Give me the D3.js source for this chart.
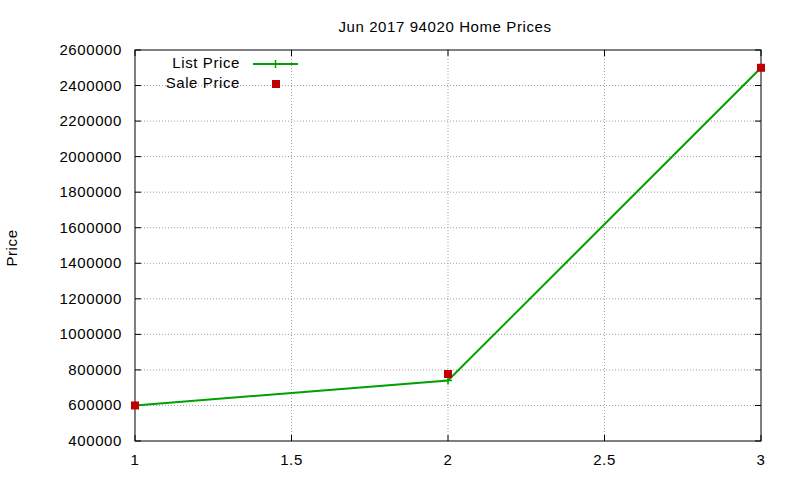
<!DOCTYPE html>
<html><head><meta charset="utf-8">
<script src="https://cdn.jsdelivr.net/npm/d3@7"></script>
<style>body{margin:0;background:#fff}text{font-family:"Liberation Sans",Arial,sans-serif;font-size:15px;letter-spacing:0.6px}</style>
</head><body><svg id="c" width="800" height="480"></svg>
<script>
const xValues=[1,2,3];
const listPrice=[600000,740000,2500000];
const salePrice=[600000,777000,2500000];
const xTicks=[1,1.5,2,2.5,3];
const yTicks=[400000,600000,800000,1000000,1200000,1400000,1600000,1800000,2000000,2200000,2400000,2600000];
const svg=d3.select("#c");
const L=135,R=761,T=50,B=441;
const x=d3.scaleLinear().domain([1,3]).range([L,R]);
const y=d3.scaleLinear().domain([400000,2600000]).range([B,T]);
const g=svg.append("g");
g.selectAll(".gy").data(yTicks.slice(1,-1)).join("line").attr("x1",L).attr("x2",R).attr("y1",d=>y(d)).attr("y2",d=>y(d)).attr("stroke","#a0a0a0").attr("stroke-dasharray","1,2");
g.selectAll(".gx").data(xTicks.slice(1,-1)).join("line").attr("x1",d=>x(d)).attr("x2",d=>x(d)).attr("y1",T).attr("y2",B).attr("stroke","#a0a0a0").attr("stroke-dasharray","1,2");
g.selectAll(".ty").data(yTicks).join("path").attr("d",d=>`M${L},${y(d)}h6M${R},${y(d)}h-6`).attr("stroke","#000");
g.selectAll(".tx").data(xTicks).join("path").attr("d",d=>`M${x(d)},${B}v-6M${x(d)},${T}v6`).attr("stroke","#000");
g.selectAll(".ly").data(yTicks).join("text").attr("x",L-13).attr("y",d=>y(d)+5).attr("text-anchor","end").text(d=>d);
g.selectAll(".lx").data(xTicks).join("text").attr("x",d=>x(d)).attr("y",B+24).attr("text-anchor","middle").text(d=>d);
g.append("rect").attr("x",L).attr("y",T).attr("width",R-L).attr("height",B-T).attr("fill","none").attr("stroke","#000");
svg.append("text").attr("x",445).attr("y",32).attr("text-anchor","middle").text("Jun 2017 94020 Home Prices");
svg.append("text").attr("transform","translate(17,248) rotate(-90)").attr("text-anchor","middle").text("Price");
const pts=xValues.map((v,i)=>[x(v),y(listPrice[i])]);
g.append("path").attr("d",d3.line()(pts)).attr("fill","none").attr("stroke","#00a000").attr("stroke-width",2);
g.selectAll(".pl").data(pts).join("path").attr("d",d=>`M${d[0]-4},${d[1]}h8M${d[0]},${d[1]-4}v8`).attr("stroke","#00a000").attr("stroke-width",1.5);
g.selectAll(".ps").data(xValues).join("rect").attr("x",(d,i)=>x(d)-4).attr("y",(d,i)=>y(salePrice[i])-4).attr("width",8).attr("height",8).attr("fill","#c00000");
svg.append("text").attr("x",240).attr("y",68).attr("text-anchor","end").text("List Price");
svg.append("path").attr("d","M253,64h45").attr("stroke","#00a000").attr("stroke-width",2);
svg.append("path").attr("d","M275.5,60v8M271.5,64h8").attr("stroke","#00a000").attr("stroke-width",1.5);
svg.append("text").attr("x",240).attr("y",88).attr("text-anchor","end").text("Sale Price");
svg.append("rect").attr("x",272).attr("y",80).attr("width",8).attr("height",8).attr("fill","#c00000");
</script></body></html>
